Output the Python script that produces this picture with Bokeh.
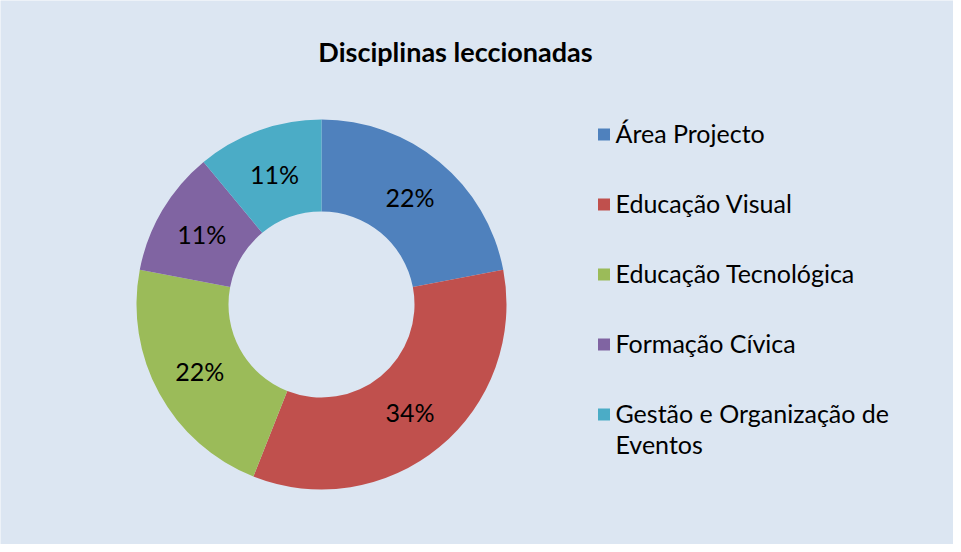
import math
from bokeh.plotting import figure
from bokeh.models import Range1d, ColumnDataSource
from bokeh.core.properties import value
from bokeh.embed import file_html
from bokeh.resources import INLINE

title = "Disciplinas leccionadas"
categories = ["Área Projecto", "Educação Visual", "Educação Tecnológica",
              "Formação Cívica", "Gestão e Organização de\nEventos"]
values = [22, 34, 22, 11, 11]
pct_labels = ["22%", "34%", "22%", "11%", "11%"]
colors = ["#4F81BD", "#C0504D", "#9BBB59", "#8064A2", "#4BACC6"]

BG = "#DCE6F2"
W, H = 953, 544
p = figure(width=W, height=H, x_range=Range1d(0, W), y_range=Range1d(0, H),
           output_backend="svg", toolbar_location=None, min_border=0,
           background_fill_color=BG, border_fill_color=BG, outline_line_color=None)
p.axis.visible = False
p.grid.visible = False

cx, cy = 321, 240
r_out, r_in = 185, 93
total = sum(values)
starts, ends, lx, ly = [], [], [], []
a = math.pi / 2
for v in values:
    da = 2 * math.pi * v / total
    starts.append(a - da)
    ends.append(a)
    mid = a - da / 2
    rm = (r_out + r_in) / 2
    lx.append(cx + rm * math.cos(mid))
    ly.append(cy + rm * math.sin(mid))
    a -= da

src = ColumnDataSource(dict(start=starts, end=ends, color=colors, lx=lx, ly=ly, lab=pct_labels))
p.annular_wedge(x=cx, y=cy, inner_radius=r_in, outer_radius=r_out,
                inner_radius_units="screen", outer_radius_units="screen",
                start_angle="start", end_angle="end", fill_color="color",
                line_color=None, source=src)
p.text(x="lx", y="ly", text="lab", source=src, text_align="center", text_baseline="middle",
       text_font=value("Lato"), text_font_size="25px", text_color="black")

p.text(x=[455], y=[493], text=[title], text_align="center", text_baseline="middle",
       text_font=value("Lato"), text_font_style="bold", text_font_size="27px", text_color="black")

leg_y = [410 - 70 * i for i in range(len(categories))]
lsrc = ColumnDataSource(dict(y=leg_y, ty=[y + 17 for y in leg_y], color=colors, lab=categories))
p.rect(x=603.5, y="y", width=12, height=12, width_units="screen", height_units="screen",
       fill_color="color", line_color=None, source=lsrc)
p.text(x=615, y="ty", text="lab", source=lsrc, text_align="left", text_baseline="top",
       text_line_height=1.05, text_font=value("Lato"), text_font_size="25px", text_color="black")

open("out.html", "w").write(file_html(p, INLINE))
